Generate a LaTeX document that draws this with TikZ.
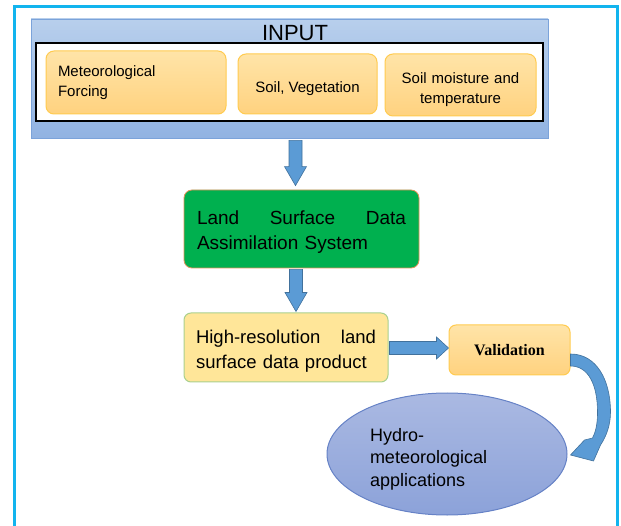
\documentclass[tikz,border=0pt]{standalone}
\usepackage{fontspec}
\setmainfont{Liberation Sans}
\newfontfamily\valfont{Liberation Serif}
\usetikzlibrary{calc,shapes.geometric}

\definecolor{cyanline}{HTML}{12B4EE}
\definecolor{inputtop}{HTML}{B8CFEC}
\definecolor{inputbot}{HTML}{91B3E2}
\definecolor{inputline}{HTML}{7BA3DA}
\definecolor{orangetop}{HTML}{FFE4A8}
\definecolor{orangebot}{HTML}{FFD27F}
\definecolor{orangeline}{HTML}{FFCB50}
\definecolor{lsgreen}{HTML}{00B04F}
\definecolor{lsline}{HTML}{E0925A}
\definecolor{prodfill}{HTML}{FFE699}
\definecolor{prodline}{HTML}{A9D08E}
\definecolor{apptop}{HTML}{AAB9E2}
\definecolor{appbot}{HTML}{8CA2D9}
\definecolor{appline}{HTML}{6682C6}
\definecolor{arrfill}{HTML}{5B9BD5}
\definecolor{arrline}{HTML}{41719C}

% block arrow from #2 to #3, head length #1
\newcommand{\blockarrow}[3][19]{%
  \filldraw[arr] let \p1=#2, \p2=#3,
    \n1={atan2((\y2)-(\y1),(\x2)-(\x1))},
    \n2={veclen((\x2)-(\x1),(\y2)-(\y1))} in
    {[shift={(\p1)},rotate=\n1]
    (0pt,-6.5pt) -- (\n2-#1pt,-6.5pt) -- (\n2-#1pt,-11pt) -- (\n2,0pt)
    -- (\n2-#1pt,11pt) -- (\n2-#1pt,6.5pt) -- (0pt,6.5pt) -- cycle};}

\begin{document}
\begin{tikzpicture}[x=1pt,y=-1pt,
    pageframe/.style={draw=cyanline,line width=3pt},
    inputbox/.style={draw=inputline,line width=0.8pt,top color=inputtop,bottom color=inputbot},
    inbox/.style={draw=orangeline,line width=1pt,rounded corners=8pt,
      top color=orangetop,bottom color=orangebot,inner ysep=2pt,
      font=\fontsize{15}{20}\selectfont},
    lsds/.style={draw=lsline,line width=0.8pt,fill=lsgreen,rounded corners=8pt,
      font=\fontsize{19}{25}\selectfont},
    prod/.style={draw=prodline,line width=1pt,fill=prodfill,rounded corners=7pt,
      font=\fontsize{18.5}{25}\selectfont},
    valid/.style={draw=orangeline,line width=1pt,rounded corners=7pt,
      top color=orangetop,bottom color=orangebot,font=\fontsize{16}{18}\selectfont},
    appl/.style={ellipse,draw=appline,line width=1pt,top color=apptop,bottom color=appbot,
      inner sep=0pt,font=\fontsize{18}{22.5}\selectfont},
    arr/.style={fill=arrfill,draw=arrline,line width=0.6pt}]
  \useasboundingbox (0,0) rectangle (621,526);
  \draw[pageframe] (14.5,526) -- (14.5,6.5) -- (617,6.5) -- (617,526);

  % inputs
  \node[inputbox,minimum width=517,minimum height=119] (inp) at (289.5,78.5) {};
  \node[font=\fontsize{22}{24}\selectfont] (title) at (295,33.5) {INPUT};
  \node[draw=black,line width=1.3pt,fill=white,minimum width=507,minimum height=78] (list) at (289.5,82) {};
  \node[inbox,text width=156,inner xsep=12,minimum height=63,align=left] (met) at (136,82.5)
    {Meteorological\\Forcing};
  \node[inbox,minimum width=139,minimum height=60,text height=20,text depth=3.2] (soil)
    at (307.5,84) {Soil, Vegetation};
  \node[inbox,text width=127,inner xsep=12,minimum height=62,align=center,
    text height=20,text depth=23.2] (moist) at (460.5,85) {Soil moisture and\\temperature};

  % system and product
  \node[lsds,text width=209,inner xsep=13,minimum height=78,align=left,
    text height=20,text depth=28.4] (lsdas) at (301.5,229)
    {Land\hfill Surface\hfill Data\\Assimilation System};
  \node[prod,text width=180,inner xsep=12,minimum height=69,align=left,
    text height=20,text depth=27.8] (hires) at (286,347.5)
    {High-resolution\hfill land\\surface data product};
  \node[valid,minimum width=121,minimum height=50] (val) at (509.5,350)
    {\valfont\bfseries Validation};
  \node[appl,text width=154,align=left,minimum width=240,minimum height=122,
    text height=20,text depth=45.2] (app) at (447,454)
    {Hydro-\\meteorological\\applications};

  % arrows
  \blockarrow{($(inp.south)+(6,2)$)}{($(lsdas.north)+(-6,-4)$)}
  \blockarrow{($(lsdas.south)+(-5.5,1)$)}{($(hires.north)+(10,-1)$)}
  \blockarrow[12]{($(hires.east)+(1,0.5)$)}{($(val.west)+(0,-2)$)}
  \filldraw[arr,shift={(val.east)}] (0,4) .. controls (26,4) and (40,30) .. (40,62)
    .. controls (40,75) and (36,86) .. (30,95) -- (23,111) -- (0,105) -- (14,90) -- (22,88)
    .. controls (26,80) and (27,72) .. (27,62) .. controls (27,35) and (18,16) .. (0,16) -- cycle;
\end{tikzpicture}
\end{document}
